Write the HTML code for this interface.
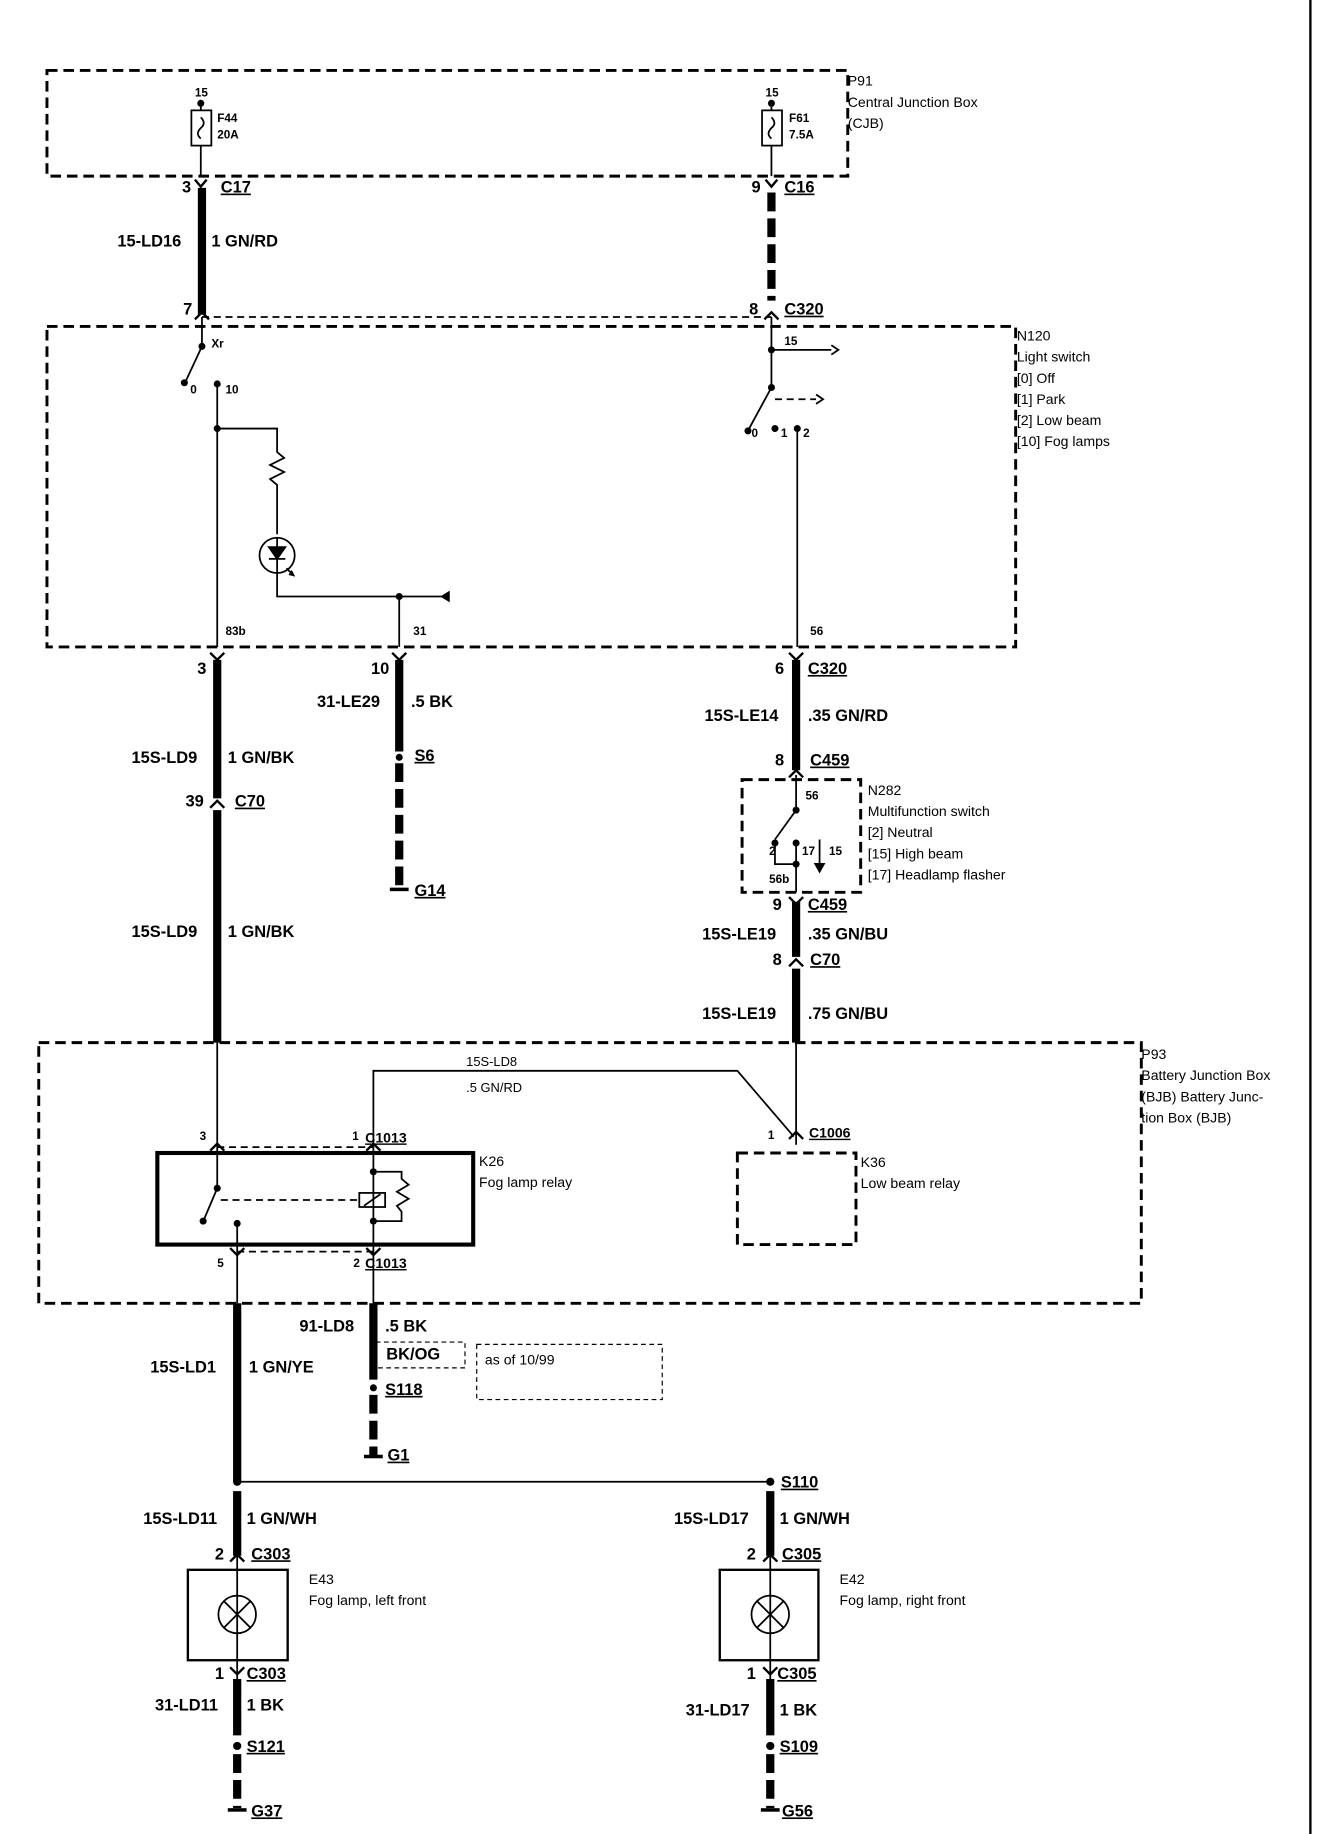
<!DOCTYPE html>
<html><head><meta charset="utf-8"><style>
html,body{margin:0;padding:0;background:#fff;}
svg{display:block;}
text{font-family:"Liberation Sans",sans-serif;fill:#000;}
.b{font-weight:bold;font-size:14px;}
.s{font-size:12px;}
.t{font-size:10px;font-weight:bold;}
</style></head><body>
<svg width="1328" height="1834" viewBox="0 0 1131 1562" preserveAspectRatio="none" xmlns="http://www.w3.org/2000/svg">
<g fill="none" stroke="#000">
<line x1="1116" y1="0" x2="1116" y2="1562" stroke-width="2"/>
<g stroke-width="2.5" stroke-dasharray="9,5">
<rect x="40" y="60" width="682" height="90"/>
<rect x="40" y="278" width="825" height="273"/>
<rect x="33" y="888" width="939" height="222"/>
<rect x="632" y="664" width="101" height="96"/>
<rect x="628" y="982" width="101" height="78"/>
<line x1="172" y1="270" x2="657" y2="270" stroke-width="1.5" stroke-dasharray="6,4"/>
<line x1="185" y1="977" x2="318" y2="977" stroke-width="1.5" stroke-dasharray="6,4"/>
<line x1="202" y1="1066" x2="318" y2="1066" stroke-width="1.5" stroke-dasharray="6,4"/>
<line x1="188" y1="1022" x2="305" y2="1022" stroke-width="1.5" stroke-dasharray="6,4"/>
<line x1="660" y1="340" x2="695" y2="340" stroke-width="1.5" stroke-dasharray="6,4"/>
</g>
<rect x="320" y="1143" width="76" height="22" stroke-width="1" stroke-dasharray="4,3"/>
<rect x="406" y="1145" width="158" height="47" stroke-width="1" stroke-dasharray="4,3"/>
<g stroke-width="1.5">
<rect x="163" y="94" width="17" height="30"/>
<rect x="649" y="94" width="17" height="30"/>
<path d="M171 100 q5 5 0 9 q-5 5 0 9"/>
<path d="M657 100 q5 5 0 9 q-5 5 0 9"/>
<line x1="171" y1="88" x2="171" y2="94"/><line x1="171" y1="124" x2="171" y2="150"/>
<line x1="657" y1="88" x2="657" y2="94"/><line x1="657" y1="124" x2="657" y2="150"/>
</g>
<g stroke-width="7">
<line x1="172" y1="160" x2="172" y2="268"/>
<line x1="185" y1="562" x2="185" y2="680"/>
<line x1="185" y1="690" x2="185" y2="888"/>
<line x1="340" y1="562" x2="340" y2="640"/>
<line x1="678" y1="562" x2="678" y2="656"/>
<line x1="678" y1="768" x2="678" y2="815"/>
<line x1="678" y1="825" x2="678" y2="888"/>
<line x1="202" y1="1110" x2="202" y2="1262"/>
<line x1="318" y1="1110" x2="318" y2="1175"/>
<line x1="202" y1="1270" x2="202" y2="1325"/>
<line x1="656" y1="1270" x2="656" y2="1325"/>
<line x1="202" y1="1430" x2="202" y2="1478"/>
<line x1="656" y1="1430" x2="656" y2="1478"/>
</g>
<g stroke-width="7" stroke-dasharray="16,6">
<line x1="657" y1="164" x2="657" y2="256"/>
<line x1="340" y1="650" x2="340" y2="758"/>
<line x1="318" y1="1188" x2="318" y2="1240"/>
<line x1="202" y1="1494" x2="202" y2="1540"/>
<line x1="656" y1="1494" x2="656" y2="1540"/>
</g>
<g stroke-width="1.5">
<line x1="657" y1="270" x2="657" y2="330"/>
<line x1="657" y1="298" x2="708" y2="298"/>
<path d="M708 294 l6 4 l-6 4"/>
<path d="M695 336 l6 4 l-6 4"/>
<line x1="657" y1="330" x2="638" y2="365"/>
<line x1="679" y1="365" x2="679" y2="551"/>
<line x1="172" y1="270" x2="172" y2="295"/>
<line x1="172" y1="295" x2="158" y2="325"/>
<line x1="185" y1="325" x2="185" y2="551"/>
<polyline points="185,365 236,365 236,385 242,390 230,396 242,402 230,408 236,413 236,455"/>
<circle cx="236" cy="473" r="15"/>
<line x1="236" y1="458" x2="236" y2="488"/>
<line x1="229" y1="476" x2="243" y2="476"/>
<polygon points="229,466 243,466 236,476" fill="#000"/>
<path d="M244 484 l6 6 M248 486 l2 4 l-4 -1"/>
<polyline points="236,488 236,508 383,508"/>
<line x1="340" y1="508" x2="340" y2="551"/>
<polyline points="318,977 318,912 628,912 676,968"/>
<line x1="678" y1="888" x2="678" y2="975"/>
<line x1="185" y1="888" x2="185" y2="1012"/>
<line x1="185" y1="1012" x2="174" y2="1038"/>
<line x1="202" y1="1042" x2="202" y2="1110"/>
<line x1="318" y1="977" x2="318" y2="1110"/>
<polyline points="318,998 342,998 342,1004 348,1009 338,1015 348,1021 338,1027 342,1032 342,1040 318,1040"/>
<rect x="306" y="1016" width="22" height="12"/>
<line x1="310" y1="1027" x2="324" y2="1017"/>
<line x1="678" y1="660" x2="678" y2="690"/>
<line x1="678" y1="690" x2="660" y2="715"/>
<polyline points="660,718 660,736 678,736 678,760"/>
<line x1="678" y1="718" x2="678" y2="736"/>
<line x1="698" y1="715" x2="698" y2="740"/>
<line x1="202" y1="1262" x2="656" y2="1262"/>
<line x1="202" y1="1325" x2="202" y2="1430"/>
<line x1="656" y1="1325" x2="656" y2="1430"/>
<circle cx="202" cy="1375" r="16"/><path d="M191 1364 l22 22 M213 1364 l-22 22"/>
<circle cx="656" cy="1375" r="16"/><path d="M645 1364 l22 22 M667 1364 l-22 22"/>
</g>
<rect x="134" y="982" width="269" height="78" stroke-width="3.5"/>
<rect x="160" y="1337" width="85" height="77" stroke-width="2"/>
<rect x="613" y="1337" width="84" height="77" stroke-width="2"/>
<g stroke-width="2">
<path d="M166 153 l5 6 l5 -6"/><path d="M652 153 l5 6 l5 -6"/>
<path d="M166 272 l6 -6 l6 6"/><path d="M651 272 l6 -6 l6 6"/>
<path d="M179 556 l6 6 l6 -6"/><path d="M334 556 l6 6 l6 -6"/><path d="M672 556 l6 6 l6 -6"/>
<path d="M179 688 l6 -6 l6 6"/><path d="M672 662 l6 -6 l6 6"/><path d="M672 764 l6 6 l6 -6"/>
<path d="M672 823 l6 -6 l6 6"/><path d="M672 970 l6 -6 l6 6"/>
<path d="M179 980 l6 -6 l6 6"/><path d="M312 980 l6 -6 l6 6"/>
<path d="M196 1063 l6 6 l6 -6"/><path d="M312 1063 l6 6 l6 -6"/>
<path d="M196 1330 l6 -6 l6 6"/><path d="M650 1330 l6 -6 l6 6"/>
<path d="M196 1420 l6 6 l6 -6"/><path d="M650 1420 l6 6 l6 -6"/>
</g>
</g>
<g fill="#000">
<circle cx="171" cy="88" r="3"/><circle cx="657" cy="88" r="3"/>
<circle cx="172" cy="295" r="3"/><circle cx="157" cy="326" r="3"/><circle cx="185" cy="327" r="3"/>
<circle cx="185" cy="365" r="3"/><circle cx="340" cy="508" r="3"/>
<circle cx="657" cy="298" r="3"/><circle cx="657" cy="330" r="3"/>
<circle cx="637" cy="367" r="3"/><circle cx="660" cy="365" r="3"/><circle cx="679" cy="365" r="3"/>
<polygon points="383,503 383,513 375,508"/>
<circle cx="340" cy="645" r="3"/><circle cx="318" cy="1182" r="3"/>
<circle cx="678" cy="690" r="3"/><circle cx="660" cy="718" r="3"/><circle cx="678" cy="718" r="3"/><circle cx="678" cy="736" r="3"/>
<polygon points="693,735 703,735 698,744"/>
<circle cx="185" cy="1012" r="3"/><circle cx="173" cy="1040" r="3"/><circle cx="202" cy="1042" r="3"/>
<circle cx="318" cy="998" r="3"/><circle cx="318" cy="1040" r="3"/>
<circle cx="202" cy="1262" r="3.5"/><circle cx="656" cy="1262" r="3.5"/>
<circle cx="202" cy="1487" r="3.5"/><circle cx="656" cy="1487" r="3.5"/>
<rect x="332" y="756" width="16" height="3"/><rect x="310" y="1239" width="16" height="3"/>
<rect x="194" y="1540" width="16" height="3"/><rect x="648" y="1540" width="16" height="3"/>
</g>
<g class="s">
<text x="722" y="73">P91</text><text x="722" y="91">Central Junction Box</text><text x="722" y="109">(CJB)</text>
<text x="866" y="290">N120</text><text x="866" y="308">Light switch</text><text x="866" y="326">[0] Off</text><text x="866" y="344">[1] Park</text><text x="866" y="362">[2] Low beam</text><text x="866" y="380">[10] Fog lamps</text>
<text x="739" y="677">N282</text><text x="739" y="695">Multifunction switch</text><text x="739" y="713">[2] Neutral</text><text x="739" y="731">[15] High beam</text><text x="739" y="749">[17] Headlamp flasher</text>
<text x="972" y="902">P93</text><text x="972" y="920">Battery Junction Box</text><text x="972" y="938">(BJB) Battery Junc-</text><text x="972" y="956">tion Box (BJB)</text>
<text x="408" y="993">K26</text><text x="408" y="1011">Fog lamp relay</text>
<text x="733" y="994">K36</text><text x="733" y="1012">Low beam relay</text>
<text x="263" y="1349">E43</text><text x="263" y="1367">Fog lamp, left front</text>
<text x="715" y="1349">E42</text><text x="715" y="1367">Fog lamp, right front</text>
<text x="413" y="1162">as of 10/99</text>
<text x="397" y="908" font-size="11">15S-LD8</text><text x="397" y="930" font-size="11">.5 GN/RD</text>
</g>
<g class="t">
<text x="166" y="82">15</text><text x="652" y="82">15</text>
<text x="185" y="104">F44</text><text x="185" y="118">20A</text><text x="672" y="104">F61</text><text x="672" y="118">7.5A</text>
<text x="180" y="296">Xr</text><text x="162" y="335">0</text><text x="192" y="335">10</text>
<text x="668" y="294">15</text><text x="640" y="372">0</text><text x="665" y="372">1</text><text x="684" y="372">2</text>
<text x="192" y="541">83b</text><text x="352" y="541">31</text><text x="690" y="541">56</text>
<text x="686" y="681">56</text><text x="655" y="728">2</text><text x="683" y="728">17</text><text x="706" y="728">15</text><text x="655" y="752">56b</text>
<text x="170" y="971">3</text><text x="300" y="971">1</text><text x="654" y="970">1</text>
<text x="185" y="1079">5</text><text x="301" y="1079">2</text>
</g>
<g class="b">
<text x="155" y="164">3</text><text x="188" y="164" text-decoration="underline">C17</text>
<text x="640" y="164">9</text><text x="668" y="164" text-decoration="underline">C16</text>
<text x="100" y="210">15-LD16</text><text x="180" y="210">1 GN/RD</text>
<text x="156" y="268">7</text><text x="638" y="268">8</text><text x="668" y="268" text-decoration="underline">C320</text>
<text x="168" y="574">3</text><text x="316" y="574">10</text><text x="660" y="574">6</text><text x="688" y="574" text-decoration="underline">C320</text>
<text x="270" y="602">31-LE29</text><text x="350" y="602">.5 BK</text>
<text x="600" y="614">15S-LE14</text><text x="688" y="614">.35 GN/RD</text>
<text x="112" y="650">15S-LD9</text><text x="194" y="650">1 GN/BK</text>
<text x="353" y="648" text-decoration="underline">S6</text>
<text x="660" y="652">8</text><text x="690" y="652" text-decoration="underline">C459</text>
<text x="158" y="687">39</text><text x="200" y="687" text-decoration="underline">C70</text>
<text x="353" y="763" text-decoration="underline">G14</text>
<text x="658" y="775">9</text><text x="688" y="775" text-decoration="underline">C459</text>
<text x="112" y="798">15S-LD9</text><text x="194" y="798">1 GN/BK</text>
<text x="598" y="800">15S-LE19</text><text x="688" y="800">.35 GN/BU</text>
<text x="658" y="822">8</text><text x="690" y="822" text-decoration="underline">C70</text>
<text x="598" y="868">15S-LE19</text><text x="688" y="868">.75 GN/BU</text>
<text x="255" y="1134">91-LD8</text><text x="328" y="1134">.5 BK</text>
<text x="329" y="1158">BK/OG</text>
<text x="128" y="1169">15S-LD1</text><text x="212" y="1169">1 GN/YE</text>
<text x="328" y="1188" text-decoration="underline">S118</text>
<text x="330" y="1244" text-decoration="underline">G1</text>
<text x="665" y="1267" text-decoration="underline">S110</text>
<text x="122" y="1298">15S-LD11</text><text x="210" y="1298">1 GN/WH</text>
<text x="574" y="1298">15S-LD17</text><text x="664" y="1298">1 GN/WH</text>
<text x="183" y="1328">2</text><text x="214" y="1328" text-decoration="underline">C303</text>
<text x="636" y="1328">2</text><text x="666" y="1328" text-decoration="underline">C305</text>
<text x="183" y="1430">1</text><text x="210" y="1430" text-decoration="underline">C303</text>
<text x="636" y="1430">1</text><text x="662" y="1430" text-decoration="underline">C305</text>
<text x="132" y="1457">31-LD11</text><text x="210" y="1457">1 BK</text>
<text x="584" y="1461">31-LD17</text><text x="664" y="1461">1 BK</text>
<text x="210" y="1492" text-decoration="underline">S121</text><text x="664" y="1492" text-decoration="underline">S109</text>
<text x="214" y="1547" text-decoration="underline">G37</text><text x="666" y="1547" text-decoration="underline">G56</text>
</g>
<g class="s" font-size="11"><text x="311" y="973" text-decoration="underline" font-weight="bold">C1013</text><text x="311" y="1080" text-decoration="underline" font-weight="bold">C1013</text><text x="689" y="969" text-decoration="underline" font-weight="bold">C1006</text></g>
</svg>
</body></html>
